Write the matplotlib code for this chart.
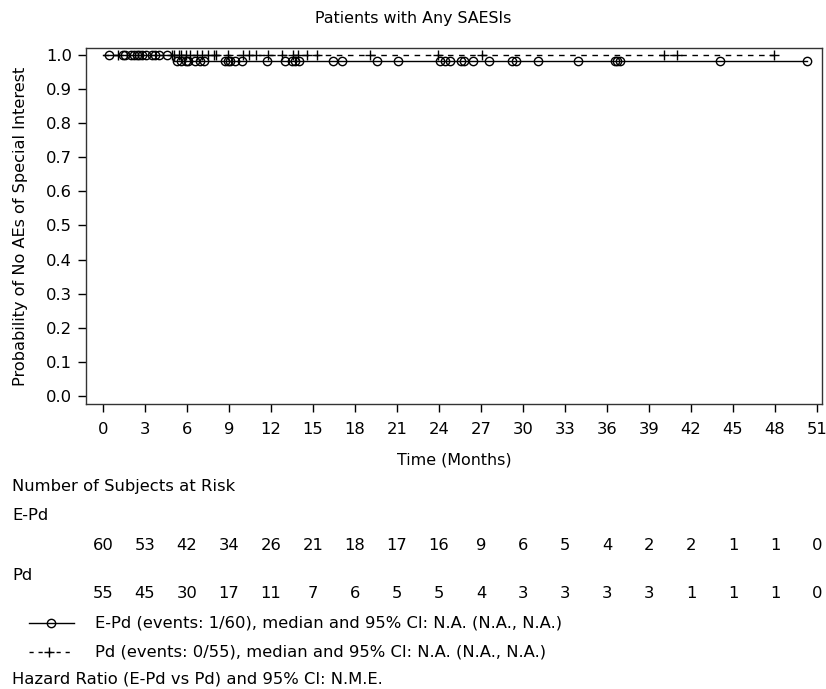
import matplotlib.pyplot as plt
import numpy as np
from matplotlib.lines import Line2D

# KM step data
epd_step_t = [0, 5.1, 50.3]
epd_step_s = [1.0, 59 / 60, 59 / 60]
pd_step_t = [0, 47.9]
pd_step_s = [1.0, 1.0]

# censored times
epd_cens_before = [0.4, 1.4, 1.6, 2.0, 2.2, 2.4, 2.6, 2.8, 3.1, 3.5, 3.7, 4.0, 4.6]
epd_cens_after = [5.3, 5.6, 5.9, 6.1, 6.6, 6.9, 7.2, 8.7, 8.9, 9.1, 9.4, 9.9,
                  11.7, 13.0, 13.5, 13.7, 14.0, 16.4, 17.1, 19.6, 21.1, 24.1,
                  24.4, 24.8, 25.6, 25.8, 26.4, 27.6, 29.2, 29.5, 31.1, 33.9,
                  36.6, 36.7, 36.9, 44.1, 50.3]
pd_cens = [1.1, 4.9, 5.1, 5.4, 5.6, 5.9, 6.2, 6.7, 7.1, 7.5, 7.9, 8.1, 8.9,
           10.0, 10.4, 10.9, 11.8, 12.8, 13.6, 13.9, 14.6, 15.3, 19.1, 23.9,
           27.1, 40.1, 41.0, 47.9]

risk_times = list(range(0, 52, 3))
risk_epd = [60, 53, 42, 34, 26, 21, 18, 17, 16, 9, 6, 5, 4, 2, 2, 1, 1, 0]
risk_pd = [55, 45, 30, 17, 11, 7, 6, 5, 5, 4, 3, 3, 3, 3, 1, 1, 1, 0]

W, H = 826, 689
fig = plt.figure(figsize=(W / 100, H / 100), dpi=100)
ax = fig.add_axes([86 / W, 1 - 404 / H, (822 - 86) / W, (404 - 48) / H])

fs = 11.8
ax.step(epd_step_t, epd_step_s, where='post', color='black', lw=1)
ax.step(pd_step_t, pd_step_s, where='post', color='black', lw=1, linestyle=(0, (4, 4)))
ax.plot(epd_cens_before, [1.0] * len(epd_cens_before), 'o', mfc='none', mec='black', ms=6, mew=1)
ax.plot(epd_cens_after, [59 / 60] * len(epd_cens_after), 'o', mfc='none', mec='black', ms=6, mew=1)
ax.plot(pd_cens, [1.0] * len(pd_cens), '+', color='black', ms=7, mew=1)

ax.set_xlim(-1.21, 51.36)
ax.set_ylim(-0.0235, 1.0205)
ax.set_xticks(risk_times)
ax.set_yticks(np.arange(0, 1.01, 0.1))
ax.set_yticklabels(['%.1f' % v for v in np.arange(0, 1.01, 0.1)])
ax.tick_params(direction='out', length=6, width=1, labelsize=fs, pad=4)
ax.tick_params(axis='x', pad=7)
for s in ax.spines.values():
    s.set_linewidth(1)
    s.set_color('#333333')
ax.set_xlabel('Time (Months)', fontsize=11.4, labelpad=11)
ax.set_ylabel('Probability of No AEs of Special Interest', fontsize=11.6, labelpad=13)

fig.text(0.5, 1 - 18 / H, 'Patients with Any SAESIs', ha='center', va='center', fontsize=11.4)

def fy(y):
    return 1 - y / H

fig.text(12 / W, fy(486), 'Number of Subjects at Risk', va='center', fontsize=fs)
fig.text(12 / W, fy(515), 'E-Pd', va='center', fontsize=fs)
fig.text(12 / W, fy(575), 'Pd', va='center', fontsize=fs)
for t, a, b in zip(risk_times, risk_epd, risk_pd):
    xf = (103 + 14 * t) / W
    fig.text(xf, fy(545), str(a), ha='center', va='center', fontsize=fs)
    fig.text(xf, fy(594), str(b), ha='center', va='center', fontsize=fs)

fig.add_artist(Line2D([29 / W, 74 / W], [fy(623), fy(623)], color='black', lw=1))
fig.add_artist(Line2D([51 / W], [fy(623)], marker='o', mfc='none', mec='black', ms=6, mew=1))
fig.add_artist(Line2D([29 / W, 74 / W], [fy(652), fy(652)], color='black', lw=1, linestyle=(0, (3, 3.5))))
fig.add_artist(Line2D([49 / W], [fy(652)], marker='+', color='black', ms=7, mew=1))
fig.text(95 / W, fy(623), 'E-Pd (events: 1/60), median and 95% CI: N.A. (N.A., N.A.)', va='center', fontsize=fs)
fig.text(95 / W, fy(652), 'Pd (events: 0/55), median and 95% CI: N.A. (N.A., N.A.)', va='center', fontsize=fs)
fig.text(12 / W, fy(679), 'Hazard Ratio (E-Pd vs Pd) and 95% CI: N.M.E.', va='center', fontsize=fs)

plt.savefig('out.png', dpi=100)
